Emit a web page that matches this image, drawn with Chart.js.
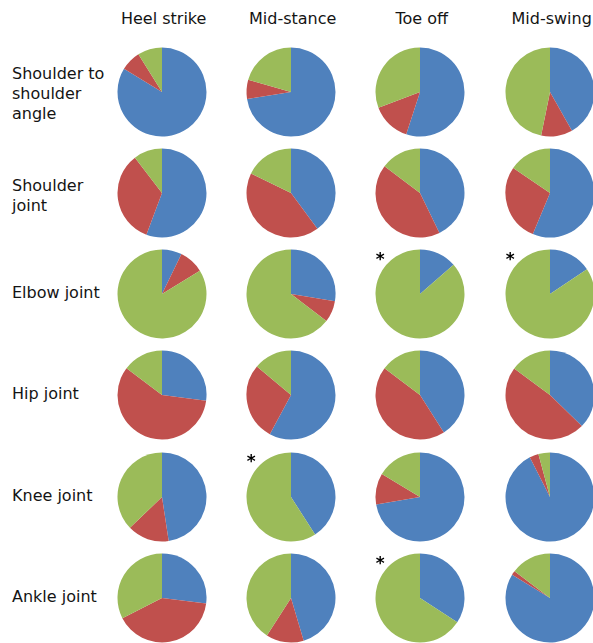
<!DOCTYPE html>
<html>
<head>
<meta charset="utf-8">
<script src="https://cdn.jsdelivr.net/npm/chart.js@4/dist/chart.umd.min.js"></script>
<style>
  html, body { margin: 0; padding: 0; background: #ffffff; }
  #board { position: relative; width: 593px; height: 643px; overflow: hidden; background: #ffffff;
           font-family: "DejaVu Sans", Verdana, sans-serif; color: #141414; }
  .phase { position: absolute; top: 8.8px; font-size: 16px; line-height: 20px; white-space: nowrap; transform: translateX(-50%); }
  .joint { position: absolute; left: 12px; font-size: 16px; line-height: 19.8px; white-space: nowrap; transform: translateY(-50%); }
  .mark { position: absolute; font-size: 17px; font-weight: bold; line-height: 17px; transform: translate(-50%, -30%); color: #000; }
  canvas.pie { position: absolute; }
</style>
</head>
<body>
<div id="board"></div>
<script>
// Gait phases (columns) and joints (rows)
const phases = ['Heel strike', 'Mid-stance', 'Toe off', 'Mid-swing'];
const joints = [
  ['Shoulder to', 'shoulder', 'angle'],
  ['Shoulder', 'joint'],
  ['Elbow joint'],
  ['Hip joint'],
  ['Knee joint'],
  ['Ankle joint']
];

// Percentage shares per joint (row) and phase (column), three components
const shareBlue = [
  [83.7, 72.5, 55.0, 41.8],
  [55.7, 39.9, 42.8, 56.3],
  [7.2, 27.6, 13.6, 15.6],
  [27.1, 57.9, 41.0, 37.3],
  [47.6, 40.9, 72.3, 92.5],
  [27.0, 45.4, 34.2, 83.8]
];
const shareRed = [
  [7.4, 6.9, 14.2, 11.4],
  [33.9, 42.3, 42.5, 28.2],
  [9.0, 7.8, 0, 0],
  [58.2, 28.2, 44.3, 47.8],
  [15.2, 0, 11.3, 3.3],
  [40.5, 13.7, 0, 1.5]
];
const shareGreen = [
  [8.9, 20.6, 30.8, 46.8],
  [10.4, 17.8, 14.7, 15.5],
  [83.8, 64.6, 86.4, 84.4],
  [14.7, 13.9, 14.7, 14.9],
  [37.2, 59.1, 16.4, 4.2],
  [32.5, 40.9, 65.8, 14.7]
];

// Cells flagged with an asterisk: [row, column]
const starred = [[2, 2], [2, 3], [4, 1], [5, 2]];

const colours = ['#4F81BD', '#C0504D', '#9BBB59'];

// Grid geometry
const colX = [161.7, 290.7, 419.7, 549.7];
const rowY = [92.3, 193.3, 294.3, 395.3, 496.7, 598.0];
const pieBox = 92;
const pieRadius = 44.5;
// vertical nudge of row labels by line count (1, 2, 3 lines)
const labelShift = { 1: -1, 2: 2.5, 3: 2 };

const board = document.getElementById('board');

phases.forEach((p, c) => {
  const d = document.createElement('div');
  d.className = 'phase';
  d.style.left = (colX[c] + 2) + 'px';
  d.textContent = p;
  board.appendChild(d);
});

joints.forEach((lines, r) => {
  const d = document.createElement('div');
  d.className = 'joint';
  d.style.top = (rowY[r] + labelShift[lines.length]) + 'px';
  d.innerHTML = lines.join('<br>');
  board.appendChild(d);
});

joints.forEach((_, r) => {
  phases.forEach((__, c) => {
    const cv = document.createElement('canvas');
    cv.className = 'pie';
    cv.width = pieBox;
    cv.height = pieBox;
    cv.style.left = (colX[c] - pieBox / 2) + 'px';
    cv.style.top = (rowY[r] - pieBox / 2) + 'px';
    board.appendChild(cv);
    new Chart(cv, {
      type: 'pie',
      data: {
        labels: ['A', 'B', 'C'],
        datasets: [{
          data: [shareBlue[r][c], shareRed[r][c], shareGreen[r][c]],
          backgroundColor: colours,
          borderWidth: 0
        }]
      },
      options: {
        responsive: false,
        animation: false,
        radius: pieRadius,
        layout: { padding: 0 },
        plugins: { legend: { display: false }, tooltip: { enabled: false } }
      }
    });
  });
});

starred.forEach(([r, c]) => {
  const d = document.createElement('div');
  d.className = 'mark';
  d.style.left = (colX[c] - 39.5) + 'px';
  d.style.top = (rowY[r] - 38.5) + 'px';
  d.textContent = '*';
  board.appendChild(d);
});
</script>
</body>
</html>
